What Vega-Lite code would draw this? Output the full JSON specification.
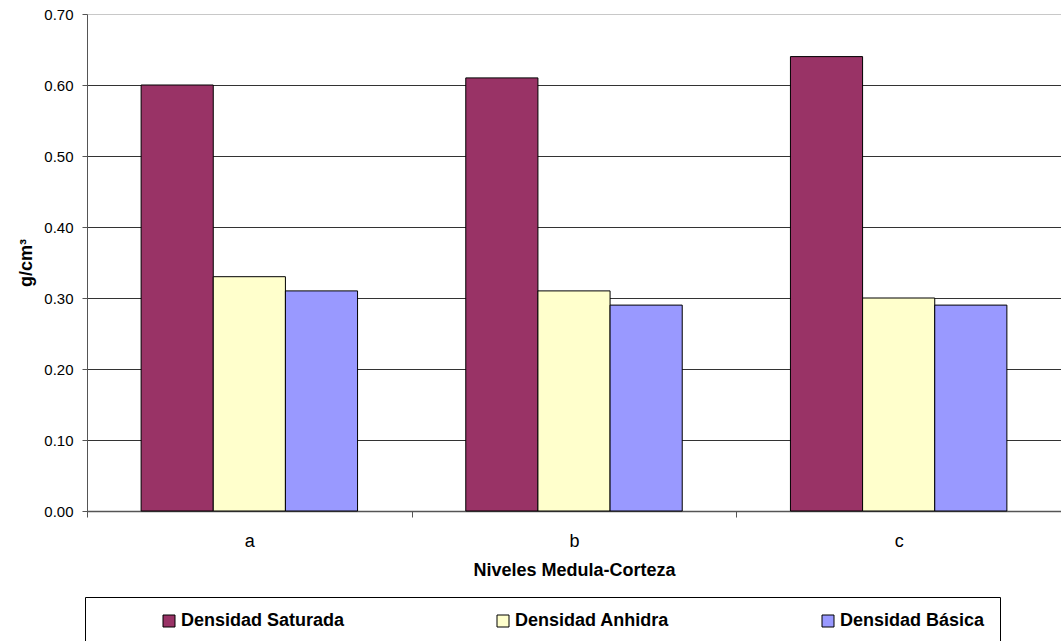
{
  "$schema": "https://vega.github.io/schema/vega-lite/v6.json",
  "width": 974,
  "height": 497,
  "autosize": {"type": "none"},
  "padding": {"left": 87, "top": 14, "right": 0, "bottom": 130},
  "background": "white",
  "config": {
    "view": {"stroke": null},
    "font": "Liberation Sans"
  },
  "data": {
    "values": [
      {"nivel": "a", "serie": "Densidad Saturada", "valor": 0.60},
      {"nivel": "a", "serie": "Densidad Anhidra", "valor": 0.33},
      {"nivel": "a", "serie": "Densidad Básica", "valor": 0.31},
      {"nivel": "b", "serie": "Densidad Saturada", "valor": 0.61},
      {"nivel": "b", "serie": "Densidad Anhidra", "valor": 0.31},
      {"nivel": "b", "serie": "Densidad Básica", "valor": 0.29},
      {"nivel": "c", "serie": "Densidad Saturada", "valor": 0.64},
      {"nivel": "c", "serie": "Densidad Anhidra", "valor": 0.30},
      {"nivel": "c", "serie": "Densidad Básica", "valor": 0.29}
    ]
  },
  "mark": {"type": "bar", "stroke": "black", "strokeWidth": 1},
  "encoding": {
    "x": {
      "field": "nivel",
      "type": "nominal",
      "scale": {"paddingInner": 0, "paddingOuter": 0},
      "axis": {
        "title": "Niveles Medula-Corteza",
        "titleFont": "Liberation Sans",
        "titleFontSize": 18,
        "titleFontWeight": "bold",
        "titleColor": "black",
        "titlePadding": 11,
        "labelAngle": 0,
        "labelFont": "Liberation Sans",
        "labelFontSize": 18,
        "labelColor": "black",
        "labelPadding": 15,
        "tickBand": "extent",
        "tickSize": 6,
        "tickColor": "#555",
        "domainColor": "#555",
        "domainWidth": 1.5
      }
    },
    "xOffset": {
      "field": "serie",
      "type": "nominal",
      "sort": ["Densidad Saturada", "Densidad Anhidra", "Densidad Básica"],
      "scale": {"paddingInner": 0, "paddingOuter": 0.75}
    },
    "y": {
      "field": "valor",
      "type": "quantitative",
      "scale": {"domain": [0, 0.7], "nice": false},
      "axis": {
        "title": "g/cm³",
        "titleFont": "Liberation Sans",
        "titleFontSize": 18,
        "titleFontWeight": "bold",
        "titleColor": "black",
        "titlePadding": 8,
        "values": [0, 0.1, 0.2, 0.3, 0.4, 0.5, 0.6, 0.7],
        "format": ".2f",
        "labelFont": "Liberation Sans",
        "labelFontSize": 15,
        "labelColor": "black",
        "labelPadding": 9,
        "tickSize": 5,
        "tickColor": "#555",
        "domainColor": "#555",
        "grid": true,
        "gridColor": {"condition": {"test": "datum.value >= 0.69", "value": "#c8c8c8"}, "value": "#333"},
        "gridWidth": 1
      }
    },
    "color": {
      "field": "serie",
      "type": "nominal",
      "sort": ["Densidad Saturada", "Densidad Anhidra", "Densidad Básica"],
      "scale": {
        "domain": ["Densidad Saturada", "Densidad Anhidra", "Densidad Básica"],
        "range": ["#993366", "#FFFFCC", "#9999FF"]
      },
      "legend": {
        "title": null,
        "orient": "none",
        "legendX": -2,
        "legendY": 583,
        "direction": "horizontal",
        "columns": 3,
        "strokeColor": "black",
        "padding": 15,
        "symbolType": "square",
        "symbolSize": 144,
        "symbolStrokeColor": "black",
        "symbolStrokeWidth": 1,
        "symbolOpacity": 1,
        "symbolOffset": 60,
        "columnPadding": 89,
        "labelFont": "Liberation Sans",
        "labelFontSize": 18,
        "labelFontWeight": "bold",
        "labelColor": "black",
        "labelOffset": 3,
        "labelLimit": 400
      }
    }
  }
}
